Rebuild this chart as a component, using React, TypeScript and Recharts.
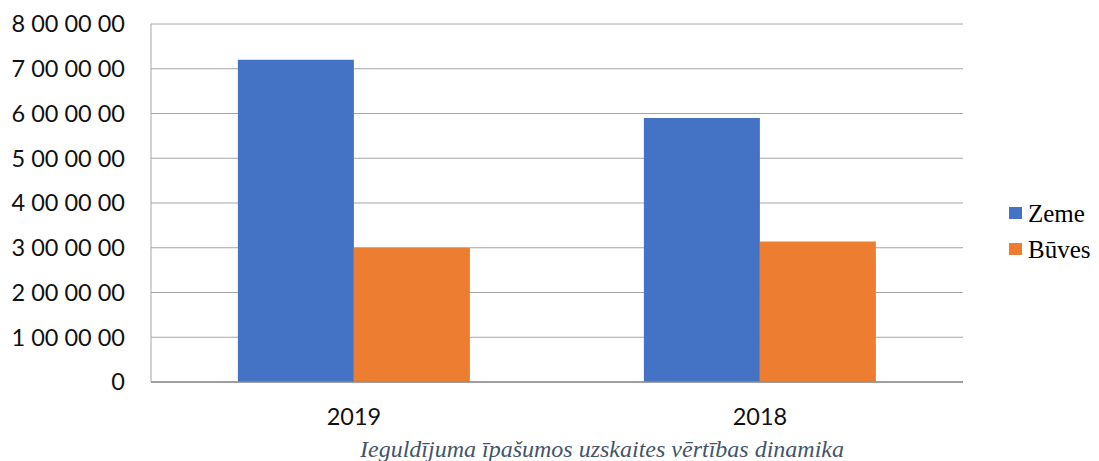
import React from "react";
import { BarChart, Bar, XAxis, YAxis, CartesianGrid } from "recharts";

const categories = ["2019", "2018"];
const zemeValues = [7200000, 5900000];
const buvesValues = [3000000, 3140000];
const yTicks = [0, 1000000, 2000000, 3000000, 4000000, 5000000, 6000000, 7000000, 8000000];
const yTickLabels = ["0", "1 00 00 00", "2 00 00 00", "3 00 00 00", "4 00 00 00", "5 00 00 00", "6 00 00 00", "7 00 00 00", "8 00 00 00"];
const seriesNames = ["Zeme", "Būves"];
const seriesColors = ["#4472C4", "#ED7D31"];
const title = "Ieguldījuma īpašumos uzskaites vērtības dinamika";

const data = categories.map((c, i) => ({ name: c, zeme: zemeValues[i], buves: buvesValues[i] }));

const axisFont = { fontFamily: "Lato, 'Liberation Sans', sans-serif", fontSize: 23.5, fill: "#111" };

export default function App() {
  return (
    <div style={{ position: "absolute", left: 0, top: 0, width: 1099, height: 461, background: "#fff", overflow: "hidden" }}>
      <BarChart
        width={1099}
        height={461}
        data={data}
        margin={{ top: 24, right: 136, bottom: 0, left: 0 }}
        barCategoryGap="21.4%"
        barGap={0}
      >
        <CartesianGrid vertical={false} stroke="#a6a6a6" strokeWidth={1} />
        <XAxis
          dataKey="name"
          height={79}
          tickLine={false}
          tickSize={0}
          tickMargin={26}
          axisLine={{ stroke: "#8c8c8c", strokeWidth: 1.5 }}
          tick={axisFont}
        />
        <YAxis
          width={151}
          domain={[0, 8000000]}
          ticks={yTicks}
          interval={0}
          tickLine={false}
          tickSize={0}
          tickMargin={26}
          axisLine={{ stroke: "#a6a6a6", strokeWidth: 1 }}
          tick={axisFont}
          tickFormatter={(v: number) => yTickLabels[yTicks.indexOf(v)] ?? String(v)}
        />
        <Bar dataKey="zeme" name={seriesNames[0]} fill={seriesColors[0]} isAnimationActive={false} />
        <Bar dataKey="buves" name={seriesNames[1]} fill={seriesColors[1]} isAnimationActive={false} />
      </BarChart>
      <div style={{ position: "absolute", left: 1009, top: 195, fontFamily: "'Liberation Serif', 'Times New Roman', serif", fontSize: 25, color: "#000" }}>
        {seriesNames.map((n, i) => (
          <div key={n} style={{ display: "flex", alignItems: "center", height: 36 }}>
            <span style={{ display: "inline-block", width: 13, height: 12, background: seriesColors[i], marginRight: 6 }} />
            <span style={{ lineHeight: "25px" }}>{n}</span>
          </div>
        ))}
      </div>
      <div style={{ position: "absolute", left: 302, top: 437, width: 600, textAlign: "center", fontFamily: "'Liberation Serif', 'Times New Roman', serif", fontStyle: "italic", fontSize: 24, lineHeight: "24px", color: "#44546A", whiteSpace: "nowrap" }}>
        {title}
      </div>
    </div>
  );
}
